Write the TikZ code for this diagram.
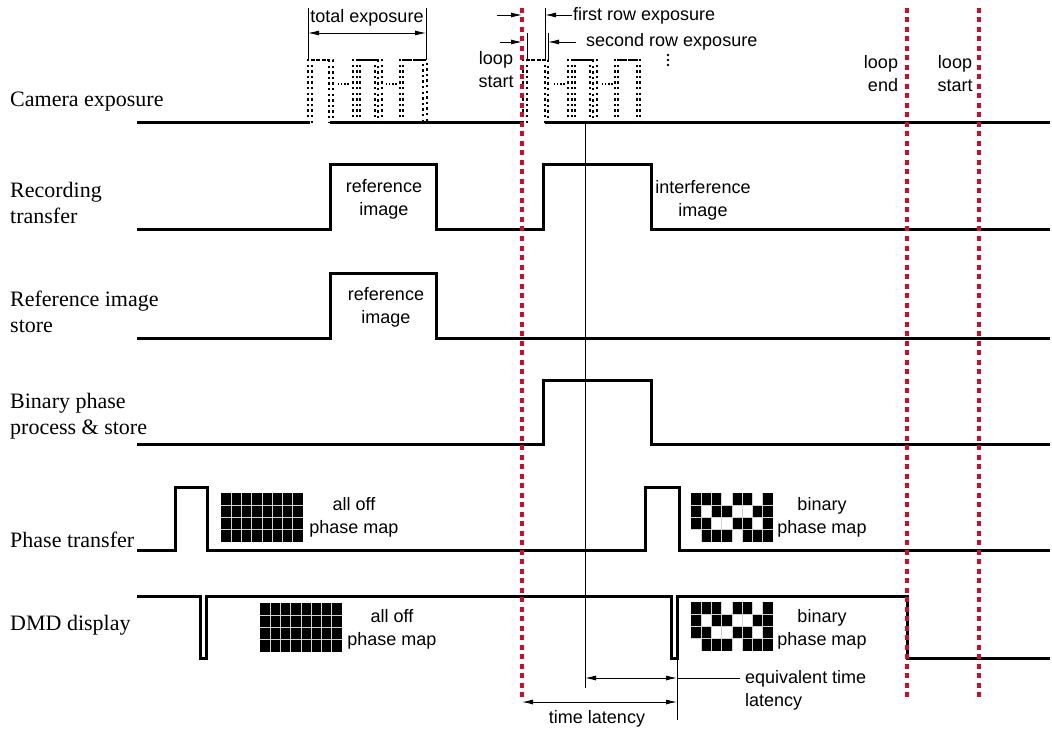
\documentclass[tikz,border=0pt]{standalone}
\usepackage{fontspec}
\setmainfont{Liberation Serif}
\setsansfont{Liberation Sans}
\usetikzlibrary{arrows.meta}
\definecolor{loopred}{RGB}{200,16,46}

% 8x4 phase map, top-left corner at (#1,#2), rows of 0/1 in #3
\newcommand{\phasemap}[3]{%
  \foreach \cells [count=\r from 0] in {#3}
    \foreach \v [count=\c from 0] in \cells
      {\ifnum\v=1 \fill (#1+\c*10.25,#2+\r*12.25) rectangle ++(10.25,12.25);\fi}
  \foreach \i in {1,...,7}
    \draw[gray!35, line width=0.6pt] (#1+\i*10.25,#2) -- ++(0,49);
  \foreach \j in {1,2,3}
    \draw[gray!35, line width=0.6pt] (#1,#2+\j*12.25) -- ++(82,0);
}

\begin{document}
\begin{tikzpicture}[x=1pt, y=-1pt,
  every node/.style={inner sep=0pt},
  lbl/.style={font=\fontsize{22}{26}\selectfont, align=left, anchor=west},
  note/.style={font=\sffamily\fontsize{18}{23}\selectfont, align=center},
  sig/.style={line width=3pt},
  guide/.style={line width=0.9pt},
  dimarrow/.style={guide, {Latex[length=11pt,width=5pt]}-{Latex[length=11pt,width=5pt]}},
  onearrow/.style={guide, -{Latex[length=11pt,width=5pt]}},
  loopline/.style={loopred, line width=3.2pt, dash pattern=on 5pt off 4.5pt},
  expo/.style={line width=1.8pt, dash pattern=on 2.4pt off 3.2pt},
  gap/.style={line width=1.3pt, dash pattern=on 1.3pt off 1.8pt}]
  \useasboundingbox (0,0) rectangle (1052,730);
  \fill[white] (0,0) rectangle (1052,730);

  % Row labels
  \node[lbl] (lcam) at (10,102) {Camera exposure};
  \node[lbl] (lrec) at (10,203) {Recording\\transfer};
  \node[lbl] (lref) at (10,312) {Reference image\\store};
  \node[lbl] (lbin) at (10,416) {Binary phase\\process \& store};
  \node[lbl] (lpha) at (10,540) {Phase transfer};
  \node[lbl] (ldmd) at (10,625) {DMD display};

  % Signals
  \draw[sig] (137,123) -- (310,123) (330,123) -- (522,123) (545,123) -- (1050,123);
  \draw[sig] (137,230) -- (330,230) -- (330,165) -- (436,165) -- (436,230) -- (543,230)
    -- (543,165) -- (651,165) -- (651,230) -- (1050,230);
  \draw[sig] (137,338) -- (330,338) -- (330,273) -- (436,273) -- (436,338) -- (1050,338);
  \draw[sig] (137,444) -- (543,444) -- (543,380) -- (651,380) -- (651,444) -- (1050,444);
  \draw[sig] (137,550) -- (175,550) -- (175,487) -- (207,487) -- (207,550) -- (645,550)
    -- (645,487) -- (679,487) -- (679,550) -- (1050,550);
  \draw[sig] (137,596) -- (200,596) -- (200,658) -- (206,658) -- (206,596) -- (671,596)
    -- (671,658) -- (677,658) -- (677,596) -- (907,596) -- (907,658) -- (1050,658);

  % Row-by-row exposure pulses
  \foreach \a/\b in {308/329, 312/333, 353/375, 357/378, 360/382, 400/423, 403/427,
                     523/545, 527/548, 568/590, 572/593, 575/597, 615/637, 618/640}
    \draw[expo] (\a,123) -- (\a,60) -- (\b,60) -- (\b,123);
  \foreach \a in {338, 386, 554, 602}
    \draw[gap] (\a,84) -- ++(11,0);
  \foreach \y in {55,60,65}
    \fill (668,\y) circle (1.3);

  % Total exposure
  \draw[guide] (308,8) -- (308,60) (426,8) -- (426,60);
  \coordinate (tot-l) at (308,33);
  \coordinate (tot-r) at (426,33);
  \draw[dimarrow] (tot-l) -- (tot-r);
  \node[note] (ttot) at (367,18) {total exposure};

  % First and second row exposure
  \draw[guide] (545,8) -- (545,60) (527,33) -- (527,60) (548,33) -- (548,60);
  \node[note, anchor=west] (tfirst) at (573,16) {first row exposure};
  \node[note, anchor=west] (tsecond) at (586,42) {second row exposure};
  \coordinate (fr-l) at (497,15);
  \coordinate (fr-a) at (522,15);
  \coordinate (fr-b) at (545,15);
  \coordinate (fr-r) at (572,15);
  \coordinate (sr-l) at (500,42);
  \coordinate (sr-a) at (522,42);
  \coordinate (sr-b) at (548,42);
  \coordinate (sr-r) at (576,42);
  \draw[onearrow] (fr-l) -- (fr-a);
  \draw[onearrow] (fr-r) -- (fr-b);
  \draw[onearrow] (sr-l) -- (sr-a);
  \draw[onearrow] (sr-r) -- (sr-b);

  % Image and map labels
  \node[note] (trec1) at (384,199) {reference\\image};
  \node[note] (tref) at (386,307) {reference\\image};
  \node[note] (tint) at (703,200) {interference\\image};
  \node[note] (toff1) at (354,517) {all off\\phase map};
  \node[note] (tbin1) at (822,517) {binary\\phase map};
  \node[note] (toff2) at (392,629) {all off\\phase map};
  \node[note] (tbin2) at (822,629) {binary\\phase map};

  % Phase maps
  \phasemap{221}{493}{{1,1,1,1,1,1,1,1},{1,1,1,1,1,1,1,1},{1,1,1,1,1,1,1,1},{1,1,1,1,1,1,1,1}}
  \phasemap{260}{603}{{1,1,1,1,1,1,1,1},{1,1,1,1,1,1,1,1},{1,1,1,1,1,1,1,1},{1,1,1,1,1,1,1,1}}
  \phasemap{691}{493}{{1,1,1,0,1,1,0,1},{1,0,1,1,0,0,1,1},{1,1,0,0,1,1,0,1},{0,1,1,1,0,1,1,1}}
  \phasemap{691}{602}{{1,1,1,0,1,1,0,1},{1,0,1,1,0,0,1,1},{1,1,0,0,1,1,0,1},{0,1,1,1,0,1,1,1}}

  % Loop markers
  \foreach \x in {522, 907, 979}
    \draw[loopline] (\x,8) -- (\x,700);
  \node[note] (tls1) at (496,70) {loop\\start};
  \node[note, align=right] (tle) at (881,74) {loop\\end};
  \node[note] (tls2) at (955,74) {loop\\start};

  % Latency
  \draw[guide] (585,123) -- (585,688);
  \draw[guide] (677,658) -- (677,720);
  \coordinate (eq-l) at (585,678);
  \coordinate (eq-r) at (677,678);
  \coordinate (lat-l) at (522,702);
  \coordinate (lat-r) at (677,702);
  \node[note, align=left, anchor=west] (teq) at (745,690) {equivalent time\\latency};
  \draw[dimarrow] (eq-l) -- (eq-r);
  \draw[guide] (eq-r) -- (740,678);
  \draw[dimarrow] (lat-l) -- (lat-r);
  \node[note] (tlat) at (597,719) {time latency};
\end{tikzpicture}
\end{document}
